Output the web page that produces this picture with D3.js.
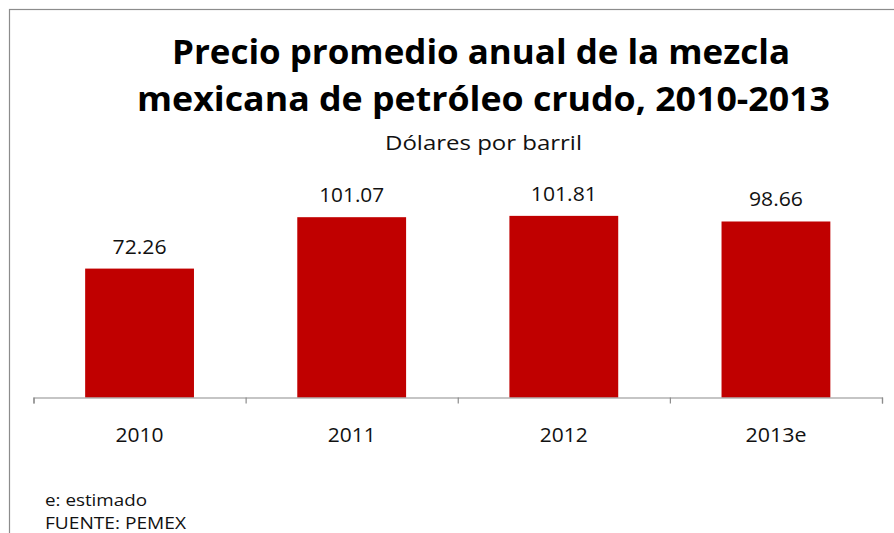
<!DOCTYPE html>
<html>
<head>
<meta charset="utf-8">
<script src="https://cdn.jsdelivr.net/npm/d3@7"></script>
<style>
  html, body { margin: 0; padding: 0; background: #fff; }
  svg { display: block; }
</style>
</head>
<body>
<svg id="chart" width="894" height="533"></svg>
<script>
// Average annual price of the Mexican crude oil blend (USD per barrel)
const years = ["2010", "2011", "2012", "2013e"];
const prices = [72.26, 101.07, 101.81, 98.66];
const titleLines = ["Precio promedio anual de la mezcla", "mexicana de petróleo crudo, 2010-2013"];
const subtitle = "Dólares por barril";
const notes = ["e: estimado", "FUENTE: PEMEX"];

const W = 894, H = 533;
const svg = d3.select("#chart");
const font = "'Open Sans', Lato, sans-serif";

// Outer chart frame (extends past the right and bottom edges)
svg.append("rect")
  .attr("x", 9.5).attr("y", 9.5)
  .attr("width", 1000).attr("height", 1000)
  .attr("fill", "none").attr("stroke", "#8c8c8c").attr("stroke-width", 1.2);

const plot = { left: 33.5, right: 882, base: 397.5 };

const x = d3.scaleBand()
  .domain(years)
  .range([plot.left, plot.right])
  .paddingInner(0.487)
  .paddingOuter(0.2435);

const y = d3.scaleLinear()
  .domain([0, 120])
  .range([plot.base, plot.base - 1.784 * 120]);

// Bars
svg.append("g").selectAll("rect")
  .data(years)
  .join("rect")
  .attr("x", (d) => x(d))
  .attr("width", x.bandwidth())
  .attr("y", (d, i) => y(prices[i]))
  .attr("height", (d, i) => y(0) - y(prices[i]))
  .attr("fill", "#c00000");

// Value labels
const valueWidths = [54, 65, 66, 54];
svg.append("g").selectAll("text")
  .data(years)
  .join("text")
  .attr("x", (d) => x(d) + x.bandwidth() / 2)
  .attr("y", (d, i) => y(prices[i]) - 15)
  .attr("text-anchor", "middle")
  .attr("font-family", font)
  .attr("font-size", 19.5)
  .attr("fill", "#111")
  .attr("textLength", (d, i) => valueWidths[i])
  .attr("lengthAdjust", "spacingAndGlyphs")
  .text((d, i) => prices[i].toFixed(2));

// Category axis: ticks sit on the band boundaries
const tickScale = d3.scaleLinear().domain([0, years.length]).range([plot.left, plot.right]);
const axis = d3.axisBottom(tickScale)
  .tickValues(d3.range(years.length + 1))
  .tickSize(6)
  .tickFormat("");
const gAxis = svg.append("g")
  .attr("transform", `translate(0,${plot.base})`)
  .call(axis);
gAxis.select(".domain").attr("stroke", "#8c8c8c").attr("stroke-width", 1.2);
gAxis.selectAll(".tick line").attr("stroke", "#8c8c8c").attr("stroke-width", 1.2);

// Category labels
const catWidths = [48, 48, 48, 61];
svg.append("g").selectAll("text")
  .data(years)
  .join("text")
  .attr("x", (d) => x(d) + x.bandwidth() / 2)
  .attr("y", 442)
  .attr("text-anchor", "middle")
  .attr("font-family", font)
  .attr("font-size", 20.5)
  .attr("fill", "#111")
  .attr("textLength", (d, i) => catWidths[i])
  .attr("lengthAdjust", "spacingAndGlyphs")
  .text((d) => d);

// Title
const titleSpans = [
  { x: 172, y: 64, w: 618 },
  { x: 137, y: 111, w: 693 }
];
svg.append("g").selectAll("text")
  .data(titleLines)
  .join("text")
  .attr("x", (d, i) => titleSpans[i].x)
  .attr("y", (d, i) => titleSpans[i].y)
  .attr("font-family", font)
  .attr("font-weight", 700)
  .attr("font-size", 33.5)
  .attr("fill", "#000")
  .attr("textLength", (d, i) => titleSpans[i].w)
  .attr("lengthAdjust", "spacingAndGlyphs")
  .text((d) => d);

svg.append("text")
  .attr("x", 385).attr("y", 149.5)
  .attr("font-family", font)
  .attr("font-size", 20)
  .attr("fill", "#111")
  .attr("textLength", 197)
  .attr("lengthAdjust", "spacingAndGlyphs")
  .text(subtitle);

// Notes
const noteWidths = [102, 141];
svg.append("g").selectAll("text")
  .data(notes)
  .join("text")
  .attr("x", 45)
  .attr("y", (d, i) => 506 + i * 22.5)
  .attr("font-family", font)
  .attr("font-size", 16.5)
  .attr("fill", "#111")
  .attr("textLength", (d, i) => noteWidths[i])
  .attr("lengthAdjust", "spacingAndGlyphs")
  .text((d) => d);
</script>
</body>
</html>
